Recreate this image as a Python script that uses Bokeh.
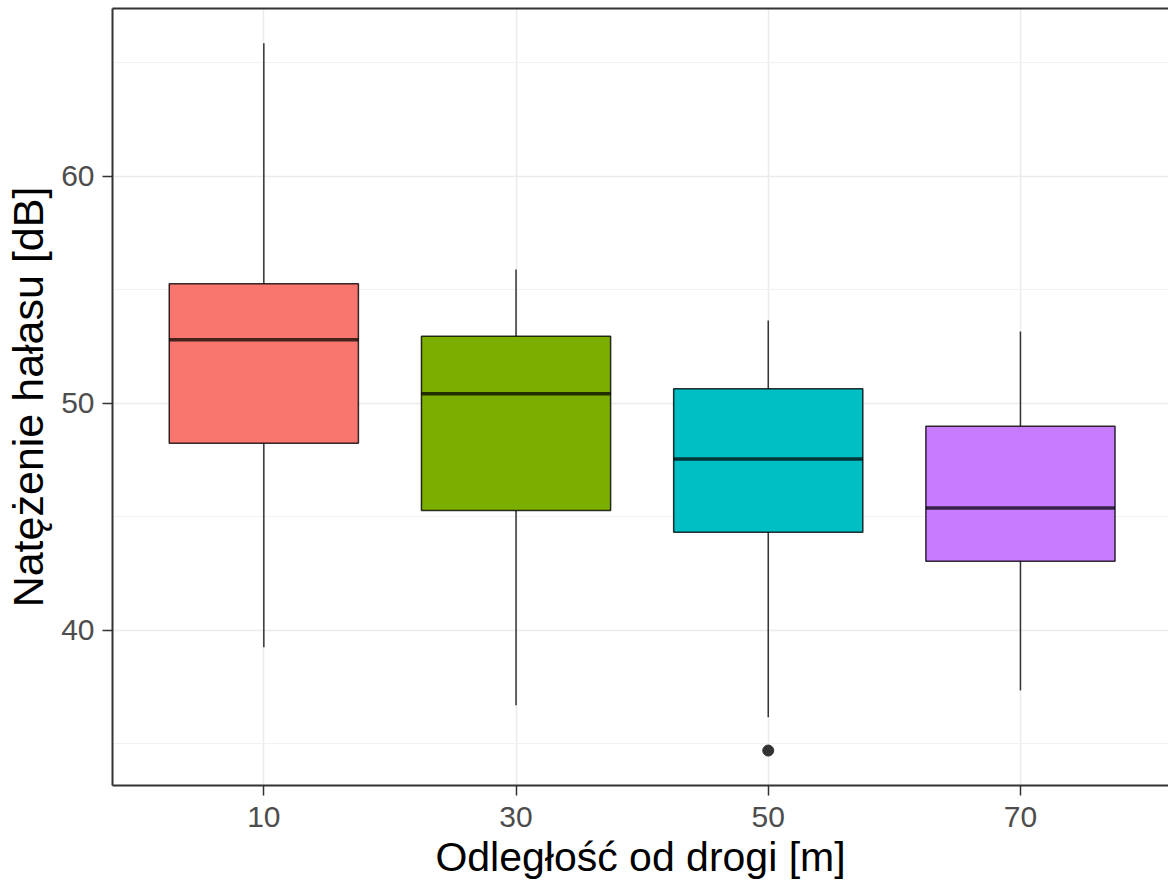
from bokeh.plotting import figure
from bokeh.models import Range1d, LinearAxis, FixedTicker, SingleIntervalTicker, ColumnDataSource
from bokeh.embed import file_html
from bokeh.resources import INLINE

# Noise level by distance from the road
categories = ["10", "30", "50", "70"]
lower_whisker = [39.26, 36.70, 36.18, 37.36]
q1 = [48.25, 45.29, 44.33, 43.05]
median = [52.81, 50.43, 47.55, 45.40]
q3 = [55.27, 52.96, 50.65, 49.00]
upper_whisker = [65.87, 55.90, 53.66, 53.17]
outlier_cat = ["50"]
outlier_val = [34.71]
fill_colors = ["#F8766D", "#7CAE00", "#00BFC4", "#C77CFF"]

box_width = 0.75
pos = {c: i + 1 for i, c in enumerate(categories)}
xs = [pos[c] for c in categories]

src = ColumnDataSource(dict(
    x=xs,
    x0=[x - box_width / 2 for x in xs],
    x1=[x + box_width / 2 for x in xs],
    lo=lower_whisker, q1=q1, med=median, q3=q3, hi=upper_whisker,
    color=fill_colors,
))

FONT = "Liberation Sans"
GRID = "#EBEBEB"
DARK = "#333333"

p = figure(
    frame_width=1056, frame_height=777,
    min_border_left=112, min_border_right=0, min_border_top=8, min_border_bottom=105,
    x_range=Range1d(0.4, 4.587), y_range=Range1d(33.17, 67.40),
    output_backend="svg", toolbar_location=None,
    background_fill_color="white", border_fill_color="white",
)
p.outline_line_color = None

# whiskers
p.segment(x0="x", x1="x", y0="q3", y1="hi", source=src, line_color=DARK, line_width=1.5)
p.segment(x0="x", x1="x", y0="q1", y1="lo", source=src, line_color=DARK, line_width=1.5)
# boxes
p.vbar(x="x", width=box_width, bottom="q1", top="q3", source=src,
       fill_color="color", line_color="black", line_alpha=0.8, line_width=1.5)
# medians
p.segment(x0="x0", x1="x1", y0="med", y1="med", source=src,
          line_color="black", line_alpha=0.72, line_width=3.5)
# outliers
p.scatter([pos[c] for c in outlier_cat], outlier_val, size=11,
          fill_color=DARK, line_color=DARK)

# axes
p.xaxis.ticker = FixedTicker(ticks=xs)
p.xaxis.major_label_overrides = {pos[c]: c for c in categories}
p.yaxis.ticker = SingleIntervalTicker(interval=10, num_minor_ticks=2)

for ax in (p.xaxis[0], p.yaxis[0]):
    ax.axis_line_color = DARK
    ax.axis_line_width = 2
    ax.major_tick_line_color = DARK
    ax.major_tick_line_width = 1.5
    ax.major_tick_in = 0
    ax.major_tick_out = 10
    ax.minor_tick_line_color = None
    ax.major_label_text_font = FONT
    ax.major_label_text_font_size = "30px"
    ax.major_label_text_color = "#4D4D4D"
    ax.axis_label_text_font = FONT
    ax.axis_label_text_font_style = "normal"
    ax.axis_label_text_color = "black"

p.xaxis.axis_label = "Odległość od drogi [m]"
p.yaxis.axis_label = "Natężenie hałasu [dB]"
p.xaxis.axis_label_text_font_size = "41px"
p.yaxis.axis_label_text_font_size = "43px"
p.xaxis.major_label_standoff = 11
p.yaxis.major_label_standoff = 8
p.xaxis.axis_label_standoff = 4
p.yaxis.axis_label_standoff = 6

# top border of the panel
top = LinearAxis(ticker=FixedTicker(ticks=[]), axis_line_color=DARK, axis_line_width=2,
                 major_tick_out=0, major_tick_in=0, major_label_standoff=0,
                 major_label_text_font_size="0px")
p.add_layout(top, "above")

# grid
p.xgrid.grid_line_color = GRID
p.xgrid.grid_line_width = 1.5
p.ygrid.grid_line_color = GRID
p.ygrid.grid_line_width = 1.5
p.ygrid.minor_grid_line_color = "#F2F2F2"
p.ygrid.minor_grid_line_width = 1.2

open("out.html", "w").write(file_html(p, INLINE))
